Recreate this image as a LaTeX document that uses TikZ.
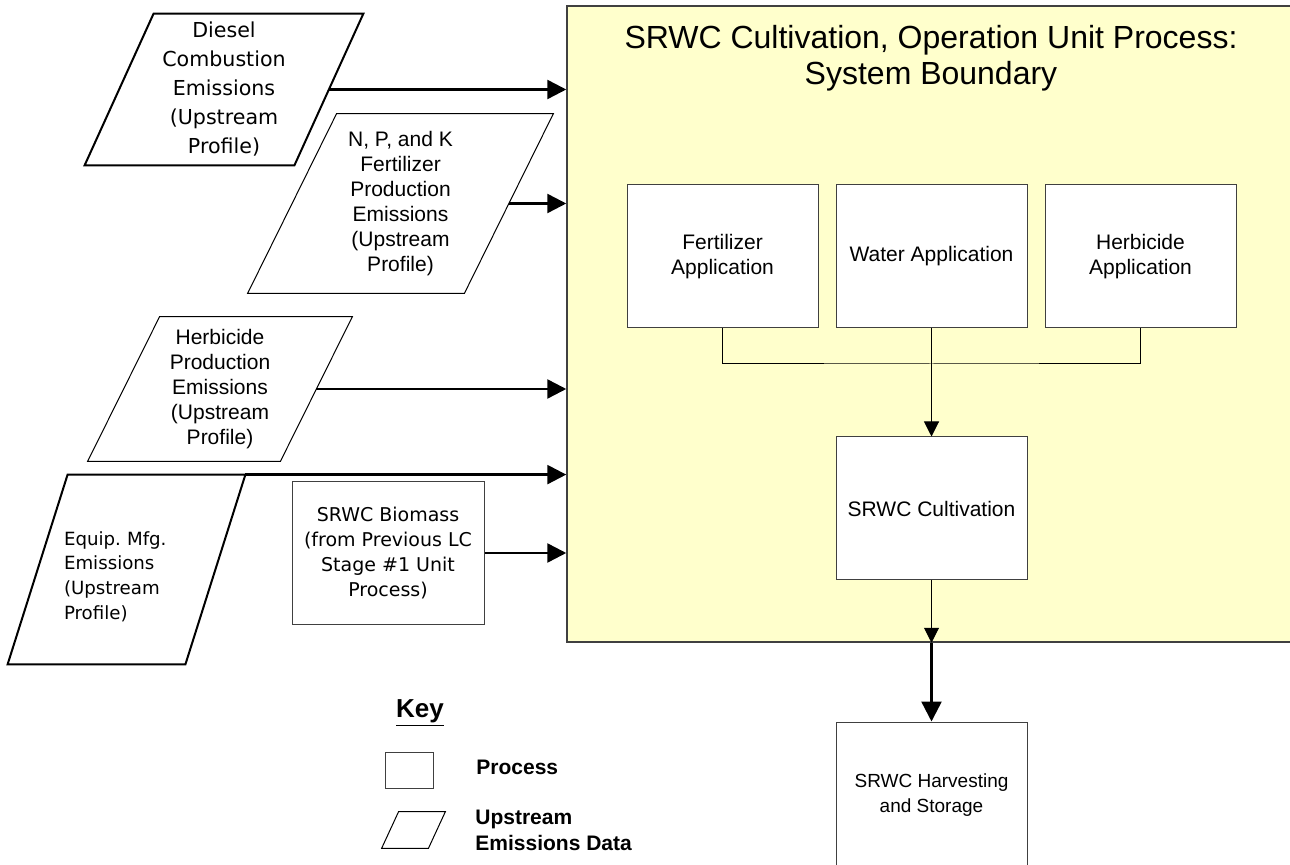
\documentclass[tikz,border=0pt]{standalone}
\usepackage{fontspec}
\setmainfont{Liberation Sans}
\newfontfamily\tahoma{DejaVu Sans}
\usetikzlibrary{positioning,arrows.meta,calc}
\definecolor{boundyellow}{RGB}{255,255,204}
\definecolor{edgegray}{RGB}{64,64,64}

\begin{document}
\begin{tikzpicture}[
		x=0.5pt, y=-0.5pt,
		process/.style={
			draw=edgegray,
			line width=0.5pt,
			fill=white,
			minimum width=95.5pt,
			minimum height=71.5pt,
			inner sep=0pt,
			align=center,
			font=\fontsize{10.5}{12.5}\selectfont
		},
		upstream/.style={inner sep=0pt, align=center},
		paraline/.style={line width=1pt},
		parathin/.style={line width=0.5pt},
		inflow/.style={line width=1.25pt, -{Triangle[length=9.5pt,width=9.5pt]}},
		stepflow/.style={line width=0.5pt, -{Triangle[length=7.5pt,width=7.5pt]}},
		handoff/.style={line width=1.25pt, -{Triangle[length=10pt,width=10pt]}}
		]
		
		\useasboundingbox (0,0) rectangle (1290,865);
		\clip (0,0) rectangle (1290,865);
		
		% system boundary
		\node[draw=edgegray, line width=0.75pt, fill=boundyellow, minimum width=366.5pt, minimum height=318pt, inner sep=0pt] (bound) at (933.5,324) {};
		\node[align=center, font=\fontsize{16}{18}\selectfont] (title) at (931,58) {SRWC Cultivation, Operation Unit Process:\\System Boundary};
		
		% unit processes
		\node[process] (fert) at (722.5,256.5) {Fertilizer\\Application};
		\node[process] (water) at (931.5,256.5) {Water Application};
		\node[process] (herb) at (1140.5,256.5) {Herbicide\\Application};
		\node[process] (cult) at (931.5,508.5) {SRWC Cultivation};
		\node[process, minimum height=73pt, font=\fontsize{9.5}{12.3}\selectfont] (harv) at (931.5,795) {SRWC Harvesting\\and Storage};
		
		% upstream emissions
		\node[upstream, minimum width=139pt, minimum height=75.5pt, font=\tahoma\fontsize{10.3}{14.5}\selectfont] (diesel) at (224,89.5) {Diesel\\Combustion\\Emissions\\(Upstream\\Profile)};
		\node[upstream, minimum width=152.5pt, minimum height=89.5pt, font=\fontsize{10.5}{12.5}\selectfont] (npk) at (400.5,203.5) {N, P, and K\\Fertilizer\\Production\\Emissions\\(Upstream\\Profile)};
		\node[upstream, minimum width=132pt, minimum height=72pt, font=\fontsize{10.5}{12.5}\selectfont] (herbem) at (220,389) {Herbicide\\Production\\Emissions\\(Upstream\\Profile)};
		\node[upstream, minimum width=118.5pt, minimum height=94.5pt, text width=62.5pt, align=left, font=\tahoma\fontsize{9.1}{12.3}\selectfont] (equip) at (126.5,569.5) {\rule{0pt}{14pt}Equip.\ Mfg.\\Emissions\\(Upstream\\Profile)};
		\node[draw=edgegray, line width=0.5pt, minimum width=96pt, minimum height=71pt, inner sep=0pt, align=center, font=\tahoma\fontsize{9.5}{12.5}\selectfont] (biomass) at (388,553) {SRWC Biomass\\(from Previous LC\\Stage \#1 Unit\\Process)};
		
		\draw[paraline] ($(diesel.north west)+(69,0)$) -- (diesel.north east) -- ($(diesel.south east)-(69,0)$) -- (diesel.south west) -- cycle;
		\draw[parathin] ($(npk.north west)+(89,0)$) -- (npk.north east) -- ($(npk.south east)-(89,0)$) -- (npk.south west) -- cycle;
		\draw[parathin] ($(herbem.north west)+(72,0)$) -- (herbem.north east) -- ($(herbem.south east)-(72,0)$) -- (herbem.south west) -- cycle;
		\draw[paraline] ($(equip.north west)+(60,0)$) -- (equip.north east) -- ($(equip.south east)-(60,0)$) -- (equip.south west) -- cycle;
		
		% inputs to the boundary
		\draw[inflow] ($(diesel.east)-(34.5,0)$) -- (diesel.east -| bound.west);
		\draw[inflow] ($(npk.east)-(44.5,0)$) -- (npk.east -| bound.west);
		\draw[inflow] ($(herbem.east)-(36,0)$) -- (herbem.east -| bound.west);
		\draw[inflow] (equip.north east) -- (equip.north east -| bound.west);
		\draw[inflow] (biomass.east) -- (biomass.east -| bound.west);
		
		% flows inside
		\coordinate (join) at (931.5,364);
		\draw[line width=0.5pt] (fert.south) |- (join) -| (herb.south);
		\draw[stepflow] (water.south) -- (cult.north);
		\coordinate (exit) at (cult.south |- bound.south);
		\draw[stepflow] (cult.south) -- (exit);
		\draw[handoff] (exit) -- (harv.north);
		
		% key
		\node[font=\bfseries\fontsize{13}{15}\selectfont] (keyhead) at (420,713) {\underline{Key}};
		\node[draw=edgegray, line width=0.5pt, minimum width=24pt, minimum height=18pt, inner sep=0pt] (keyproc) at (409,770) {};
		\node[anchor=west, inner sep=0pt, font=\bfseries\fontsize{10.5}{12.5}\selectfont] (keyproclabel) at (476,767) {Process};
		\node[minimum width=31.5pt, minimum height=18pt, inner sep=0pt] (keypara) at (413.5,830) {};
		\draw[parathin] ($(keypara.north west)+(17,0)$) -- (keypara.north east) -- ($(keypara.south east)-(17,0)$) -- (keypara.south west) -- cycle;
		\node[anchor=west, align=left, inner sep=0pt, font=\bfseries\fontsize{10.5}{13}\selectfont] (keyparalabel) at (475,830) {Upstream\\Emissions Data};
		
	\end{tikzpicture}
\end{document}
